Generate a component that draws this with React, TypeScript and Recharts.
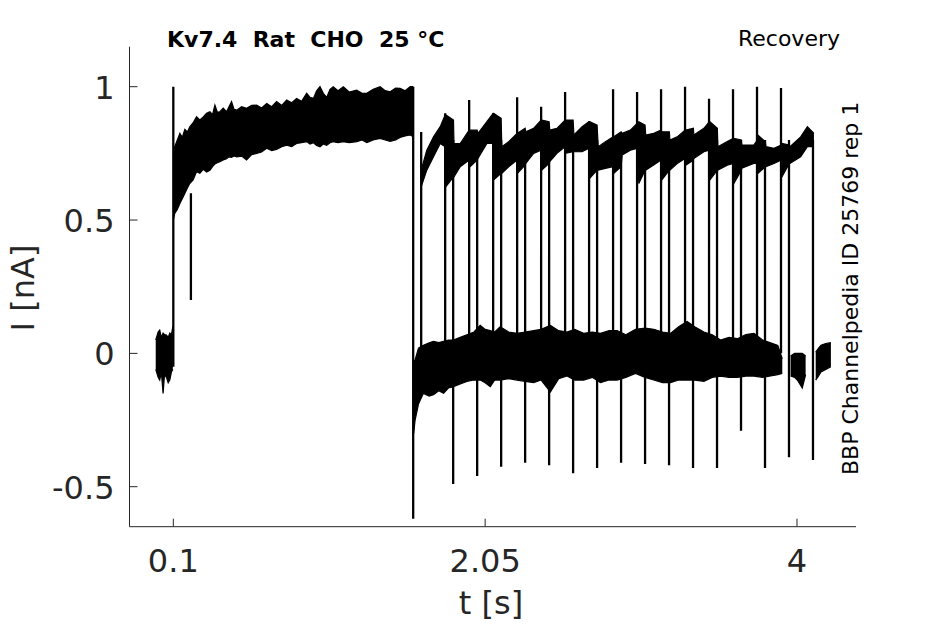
import React from 'react';
import { ComposedChart, Area, Line, XAxis, YAxis } from 'recharts';

// ---- axis ticks ----
const xTicks = [0.1, 2.05, 4];
const yTicks = [-0.5, 0, 0.5, 1];

// ---- noise envelopes of the overlaid sweeps: [t (s), low (nA), high (nA)] ----
const preBand: [number, number, number][] = [
  [-0.01, -0.06, 0.05], [0.005, -0.09, 0.08], [0.015, -0.1, 0.087], [0.025, -0.07, 0.06],
  [0.036, -0.15, 0.076], [0.045, -0.08, 0.07], [0.057, -0.09, 0.069], [0.068, -0.11, 0.06],
  [0.078, -0.1, 0.076], [0.088, -0.07, 0.07], [0.097, -0.06, 0.1],
];

const firstPulseBand: [number, number, number][] = [
  [0.1, 0.5, 0.74], [0.109, 0.525, 0.775], [0.125, 0.54, 0.8], [0.141, 0.562, 0.825],
  [0.156, 0.58, 0.81], [0.172, 0.6, 0.84], [0.188, 0.62, 0.83], [0.203, 0.637, 0.85],
  [0.224, 0.65, 0.865], [0.245, 0.681, 0.887], [0.266, 0.675, 0.875], [0.287, 0.69, 0.887],
  [0.308, 0.68, 0.9], [0.329, 0.687, 0.906], [0.345, 0.7, 0.895], [0.36, 0.71, 0.931],
  [0.375, 0.715, 0.905], [0.391, 0.719, 0.906], [0.412, 0.725, 0.92], [0.433, 0.73, 0.906],
  [0.448, 0.737, 0.925], [0.464, 0.735, 0.944], [0.48, 0.74, 0.915], [0.496, 0.737, 0.912],
  [0.527, 0.74, 0.925], [0.558, 0.725, 0.919], [0.59, 0.745, 0.93], [0.621, 0.75, 0.931],
  [0.652, 0.755, 0.92], [0.684, 0.769, 0.937], [0.715, 0.76, 0.925], [0.746, 0.765, 0.944],
  [0.778, 0.775, 0.93], [0.809, 0.781, 0.95], [0.84, 0.775, 0.94], [0.871, 0.787, 0.956],
  [0.902, 0.79, 0.945], [0.934, 0.794, 0.975], [0.955, 0.785, 0.96], [0.976, 0.79, 0.956],
  [0.996, 0.78, 0.985], [1.017, 0.775, 1.0], [1.038, 0.785, 0.975], [1.059, 0.78, 0.96],
  [1.08, 0.79, 0.99], [1.1, 0.794, 1.0], [1.13, 0.79, 0.985], [1.163, 0.794, 1.0],
  [1.2, 0.79, 0.98], [1.247, 0.794, 0.987], [1.28, 0.8, 0.975], [1.31, 0.79, 0.975],
  [1.35, 0.8, 0.99], [1.393, 0.806, 1.0], [1.425, 0.8, 0.985], [1.456, 0.795, 0.981],
  [1.49, 0.8, 0.995], [1.518, 0.81, 0.994], [1.55, 0.815, 0.985], [1.581, 0.819, 1.0],
  [1.6, 0.812, 1.0],
];

const baselineBand: [number, number, number][] = [
  [1.603, -0.3, -0.03], [1.612, -0.25, -0.025], [1.633, -0.19, 0.02], [1.664, -0.15, 0.03],
  [1.7, -0.16, 0.04], [1.727, -0.155, 0.045], [1.76, -0.14, 0.04], [1.79, -0.15, 0.045],
  [1.82, -0.13, 0.05], [1.852, -0.125, 0.05], [1.894, -0.115, 0.06], [1.936, -0.105, 0.07],
  [1.98, -0.1, 0.08], [2.019, -0.1, 0.105], [2.05, -0.11, 0.09], [2.082, -0.125, 0.085],
  [2.11, -0.1, 0.08], [2.144, -0.1, 0.1], [2.197, -0.095, 0.08], [2.249, -0.1, 0.075],
  [2.3, -0.105, 0.08], [2.353, -0.11, 0.085], [2.4, -0.1, 0.09], [2.458, -0.145, 0.105],
  [2.51, -0.095, 0.085], [2.562, -0.085, 0.08], [2.61, -0.1, 0.09], [2.666, -0.1, 0.075],
  [2.72, -0.09, 0.08], [2.771, -0.11, 0.075], [2.825, -0.1, 0.085], [2.875, -0.1, 0.085],
  [2.93, -0.09, 0.07], [2.99, -0.075, 0.09], [3.05, -0.09, 0.095], [3.104, -0.1, 0.09],
  [3.16, -0.11, 0.08], [3.209, -0.11, 0.075], [3.26, -0.1, 0.1], [3.313, -0.1, 0.12],
  [3.36, -0.1, 0.1], [3.418, -0.105, 0.08], [3.47, -0.09, 0.07], [3.522, -0.085, 0.05],
  [3.575, -0.09, 0.06], [3.627, -0.09, 0.055], [3.68, -0.085, 0.07], [3.731, -0.085, 0.075],
  [3.785, -0.09, 0.05], [3.835, -0.085, 0.04], [3.88, -0.08, 0.03], [3.908, -0.075, -0.02],
];

const tailBandA: [number, number, number][] = [
  [3.96, -0.085, -0.01], [3.985, -0.09, 0.0], [4.002, -0.1, 0.0], [4.033, -0.13, 0.0], [4.054, -0.08, -0.01],
];

const tailBandB: [number, number, number][] = [
  [4.117, -0.1, 0.005], [4.135, -0.085, 0.02], [4.15, -0.07, 0.03], [4.18, -0.06, 0.037], [4.212, -0.05, 0.04],
];

const secondPulseBand: [number, number, number][] = [
  [1.65, 0.625, 0.687], [1.685, 0.687, 0.762], [1.727, 0.737, 0.812], [1.769, 0.787, 0.85],
  [1.8, 0.775, 0.894], [1.804, 0.625, 0.894], [1.852, 0.662, 0.875], [1.855, 0.662, 0.787],
  [1.894, 0.7, 0.787], [1.95, 0.725, 0.837], [1.955, 0.7, 0.837], [2.0, 0.725, 0.837],
  [2.005, 0.731, 0.825], [2.061, 0.787, 0.869], [2.1, 0.787, 0.9], [2.103, 0.65, 0.9],
  [2.15, 0.675, 0.881], [2.154, 0.675, 0.775], [2.197, 0.7, 0.794], [2.25, 0.725, 0.825],
  [2.252, 0.675, 0.825], [2.3, 0.706, 0.844], [2.304, 0.712, 0.831], [2.353, 0.75, 0.844],
  [2.4, 0.762, 0.875], [2.403, 0.687, 0.875], [2.45, 0.712, 0.869], [2.454, 0.719, 0.837],
  [2.499, 0.75, 0.844], [2.55, 0.775, 0.875], [2.553, 0.75, 0.875], [2.6, 0.756, 0.875],
  [2.605, 0.756, 0.819], [2.656, 0.756, 0.85], [2.7, 0.769, 0.869], [2.703, 0.656, 0.869],
  [2.75, 0.687, 0.856], [2.757, 0.687, 0.775], [2.802, 0.694, 0.794], [2.85, 0.7, 0.812],
  [2.855, 0.675, 0.812], [2.9, 0.7, 0.831], [2.907, 0.744, 0.825], [2.958, 0.762, 0.837],
  [3.0, 0.769, 0.862], [3.011, 0.637, 0.869], [3.05, 0.687, 0.856], [3.054, 0.687, 0.819],
  [3.104, 0.706, 0.825], [3.15, 0.725, 0.837], [3.154, 0.65, 0.831], [3.202, 0.687, 0.831],
  [3.205, 0.687, 0.8], [3.251, 0.712, 0.812], [3.3, 0.731, 0.837], [3.305, 0.706, 0.837],
  [3.352, 0.725, 0.844], [3.355, 0.731, 0.819], [3.418, 0.756, 0.844], [3.452, 0.762, 0.869],
  [3.455, 0.65, 0.869], [3.502, 0.687, 0.844], [3.505, 0.687, 0.775], [3.564, 0.706, 0.794],
  [3.602, 0.712, 0.806], [3.605, 0.637, 0.806], [3.652, 0.687, 0.8], [3.655, 0.694, 0.781],
  [3.73, 0.712, 0.781], [3.752, 0.712, 0.8], [3.755, 0.675, 0.819], [3.802, 0.7, 0.794],
  [3.806, 0.7, 0.775], [3.856, 0.712, 0.769], [3.902, 0.725, 0.781], [3.906, 0.662, 0.787],
  [3.952, 0.712, 0.781], [3.956, 0.712, 0.775], [4.023, 0.737, 0.812], [4.065, 0.775, 0.85],
  [4.106, 0.775, 0.825],
];

// ---- capacitive transients (vertical strokes) ----
const stepTimes = [0.1, 0.21, 1.6];
const stepFrom = [-0.05, 0.6, 1.0];
const stepTo = [1.0, 0.2, -0.62];

const onsetTimes = [1.65, 1.8, 1.95, 2.1, 2.25, 2.4, 2.55, 2.7, 2.85, 3.0, 3.15, 3.3, 3.45, 3.6, 3.75, 3.9];
const onsetFrom = [0.0, 0.0, 0.0, 0.0, 0.0, 0.0, 0.0, 0.0, 0.0, 0.0, 0.0, 0.0, 0.0, 0.0, 0.0, 0.0];
const onsetPeaks = [0.83, 0.9, 0.95, 0.9, 0.96, 0.925, 0.98, 0.87, 0.99, 0.98, 0.99, 1.0, 0.955, 0.99, 1.0, 0.995];

const offsetTimes = [1.85, 2.0, 2.15, 2.3, 2.45, 2.6, 2.75, 2.9, 3.05, 3.2, 3.35, 3.5, 3.65, 3.8, 3.95, 4.1];
const offsetFrom = [0.8, 0.8, 0.8, 0.8, 0.8, 0.8, 0.8, 0.8, 0.8, 0.8, 0.8, 0.8, 0.8, 0.8, 0.8, 0.8];
const offsetTroughs = [-0.49, -0.46, -0.425, -0.41, -0.42, -0.45, -0.43, -0.41, -0.415, -0.42, -0.43, -0.43, -0.29, -0.43, -0.39, -0.4];

// ---- tables for recharts ----
const toBand = (rows: [number, number, number][]) => rows.map(([t, lo, hi]) => ({ t, band: [lo, hi] }));

const spikeRows = (times: number[], from: number[], to: number[]) => {
  const out: { t: number; v: number | null }[] = [];
  times.forEach((t, i) => {
    out.push({ t, v: from[i] });
    out.push({ t, v: to[i] });
    out.push({ t, v: null });
  });
  return out;
};

const bands = [preBand, firstPulseBand, baselineBand, tailBandA, tailBandB, secondPulseBand].map(toBand);
const spikes = [
  ...spikeRows(stepTimes, stepFrom, stepTo),
  ...spikeRows(onsetTimes, onsetFrom, onsetPeaks),
  ...spikeRows(offsetTimes, offsetFrom, offsetTroughs),
];

const AXIS = '#262626';
const FONT = "'DejaVu Sans', sans-serif";

const YTick = (props: any) => {
  const { x, y, payload } = props;
  return (
    <g>
      <line x1={x} y1={y} x2={x + 8} y2={y} stroke={AXIS} strokeWidth={1} />
      <text x={x - 15} y={y + 12} textAnchor="end" fontFamily={FONT} fontSize={32} fill={AXIS}>
        {String(payload.value)}
      </text>
    </g>
  );
};

const XTick = (props: any) => {
  const { x, y, payload } = props;
  return (
    <g>
      <line x1={x} y1={y} x2={x} y2={y - 8} stroke={AXIS} strokeWidth={1} />
      <text x={x} y={y + 45} textAnchor="middle" fontFamily={FONT} fontSize={32} fill={AXIS}>
        {String(payload.value)}
      </text>
    </g>
  );
};

export default function App() {
  return (
    <div style={{ position: 'absolute', left: 0, top: 0, width: 945, height: 624, background: '#fff' }}>
      <ComposedChart
        width={945}
        height={624}
        margin={{ top: 46.7, right: 89, bottom: 47.3, left: 69.5 }}
      >
        <XAxis
          type="number"
          dataKey="t"
          domain={[-0.174, 4.369]}
          allowDataOverflow
          ticks={xTicks}
          interval={0}
          height={50}
          tickSize={0}
          tickMargin={0}
          tickLine={false}
          axisLine={{ stroke: AXIS, strokeWidth: 1 }}
          tick={<XTick />}
        />
        <YAxis
          type="number"
          domain={[-0.65, 1.15]}
          allowDataOverflow
          ticks={yTicks}
          interval={0}
          width={60}
          tickSize={0}
          tickMargin={0}
          tickLine={false}
          axisLine={{ stroke: AXIS, strokeWidth: 1 }}
          tick={<YTick />}
        />
        {bands.map((d, i) => (
          <Area
            key={'band' + i}
            data={d}
            dataKey="band"
            type="linear"
            stroke="#000"
            strokeWidth={1.2}
            fill="#000"
            fillOpacity={1}
            dot={false}
            activeDot={false}
            isAnimationActive={false}
          />
        ))}
        <Line
          data={spikes}
          dataKey="v"
          type="linear"
          stroke="#000"
          strokeWidth={2.3}
          dot={false}
          activeDot={false}
          connectNulls={false}
          isAnimationActive={false}
        />
      </ComposedChart>
      <svg
        width={945}
        height={624}
        style={{ position: 'absolute', left: 0, top: 0, pointerEvents: 'none' }}
      >
        <text x={167} y={47} fontFamily={FONT} fontSize={22} fontWeight="bold" fill="#000" style={{ whiteSpace: 'pre' }}>
          {'Kv7.4  Rat  CHO  25 °C'}
        </text>
        <text x={840} y={46} textAnchor="end" fontFamily={FONT} fontSize={22} fill="#000">
          Recovery
        </text>
        <text
          transform="translate(858,475) rotate(-90)"
          fontFamily={FONT}
          fontSize={22}
          fill="#000"
        >
          BBP Channelpedia ID 25769 rep 1
        </text>
        <text
          transform="translate(34,288) rotate(-90)"
          textAnchor="middle"
          fontFamily={FONT}
          fontSize={32}
          fill={AXIS}
        >
          I [nA]
        </text>
        <text x={491} y={614} textAnchor="middle" fontFamily={FONT} fontSize={32} fill={AXIS}>
          t [s]
        </text>
      </svg>
    </div>
  );
}
